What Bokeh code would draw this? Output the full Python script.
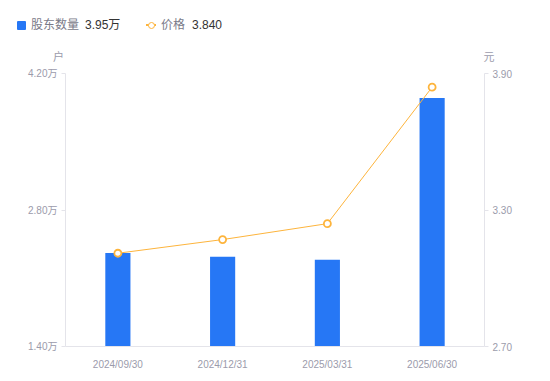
from bokeh.plotting import figure
from bokeh.layouts import column
from bokeh.models import (FactorRange, Range1d, LinearAxis, FixedTicker,
                          PrintfTickFormatter, Div)
from bokeh.embed import file_html
from bokeh.resources import INLINE

# ---- data ----
dates = ["2024/09/30", "2024/12/31", "2025/03/31", "2025/06/30"]
holders = [2.36, 2.32, 2.29, 3.95]      # 股东数量 (万户)
price = [3.11, 3.17, 3.24, 3.84]        # 价格 (元)
left_ticks = [1.40, 2.80, 4.20]
right_ticks = [2.70, 3.30, 3.90]
series_names = ["股东数量", "价格"]
units = ["户", "元"]

BLUE = "#2677F5"
ORANGE = "#FDB43C"
AXIS = "#E4E4EA"
TICKTXT = "#9B9BAB"
NAMETXT = "#7A7A88"
VALTXT = "#333333"
FONT = "Liberation Sans, Noto Sans CJK SC"

W, H = 550, 381
HEAD = 65                      # height of the legend strip
FL, FR, FT, FB = 65, 484, 73, 346   # plot frame in page pixels

css_font = "font-family:'Liberation Sans','Noto Sans CJK SC',sans-serif;"


def span(left, top, text, color, size=12, extra=""):
    return (f'<span style="position:absolute;left:{left}px;top:{top}px;'
            f'font-size:{size}px;line-height:16px;color:{color};white-space:nowrap;{extra}">{text}</span>')


LY = 25
html = (f'<div style="position:relative;width:{W}px;height:{HEAD}px;{css_font}">'
        f'<span style="position:absolute;left:17px;top:{LY-4.5}px;width:9px;height:9px;'
        f'background:{BLUE};border-radius:1px"></span>'
        + span(31, LY - 8, series_names[0], NAMETXT)
        + span(85, LY - 8, "%.2f万" % holders[-1], VALTXT)
        + f'<span style="position:absolute;left:145.5px;top:{LY-0.75}px;width:10.5px;height:1.5px;'
          f'background:{ORANGE}"></span>'
        + f'<span style="position:absolute;left:148px;top:{LY-3.5}px;width:7px;height:7px;'
          f'box-sizing:border-box;border:1.6px solid {ORANGE};border-radius:50%;background:#fff"></span>'
        + span(161, LY - 8, series_names[1], NAMETXT)
        + span(192, LY - 8, "%.3f" % price[-1], VALTXT)
        + span(48.5, 57 - 8, units[0], TICKTXT, 11, "width:20px;text-align:center;")
        + span(479, 57 - 8, units[1], TICKTXT, 11, "width:20px;text-align:center;")
        + '</div>')

head = Div(text=html, width=W, height=HEAD, margin=(0, 0, 0, 0))

# ---- main chart ----
p = figure(width=W, height=H - HEAD, x_range=FactorRange(*dates),
           y_range=Range1d(left_ticks[0], left_ticks[-1]),
           output_backend="svg", toolbar_location=None,
           min_border_left=FL, min_border_right=W - FR,
           min_border_top=FT - HEAD, min_border_bottom=H - FB,
           outline_line_color=None, margin=(0, 0, 0, 0))
p.extra_y_ranges = {"price": Range1d(right_ticks[0], right_ticks[-1])}
p.xgrid.visible = False
p.ygrid.visible = False

p.vbar(x=dates, top=holders, bottom=left_ticks[0], width=0.24,
       fill_color=BLUE, line_color=None)
p.line(x=dates, y=price, y_range_name="price", color=ORANGE, line_width=1)
p.scatter(x=dates, y=price, y_range_name="price", marker="circle", size=7,
          fill_color="white", line_color=ORANGE, line_width=1.8)

ra = LinearAxis(y_range_name="price")
p.add_layout(ra, "right")

for ax, ticks, fmt in ((p.yaxis[0], left_ticks, "%.2f万"), (ra, right_ticks, "%.2f")):
    ax.ticker = FixedTicker(ticks=ticks)
    ax.formatter = PrintfTickFormatter(format=fmt)
    ax.minor_tick_line_color = None
    ax.axis_line_color = AXIS
    ax.major_tick_line_color = AXIS
    ax.major_tick_out = 4
    ax.major_tick_in = 0
    ax.major_label_standoff = 4
    ax.major_label_text_font_size = "10px"
    ax.major_label_text_color = TICKTXT
    ax.major_label_text_font = FONT

xa = p.xaxis[0]
xa.axis_line_color = AXIS
xa.major_tick_line_color = None
xa.minor_tick_line_color = None
xa.major_label_standoff = 6
xa.major_label_text_font_size = "10px"
xa.major_label_text_color = TICKTXT
xa.major_label_text_font = FONT

layout = column(head, p, spacing=0)
open("out.html", "w").write(file_html(layout, INLINE))
